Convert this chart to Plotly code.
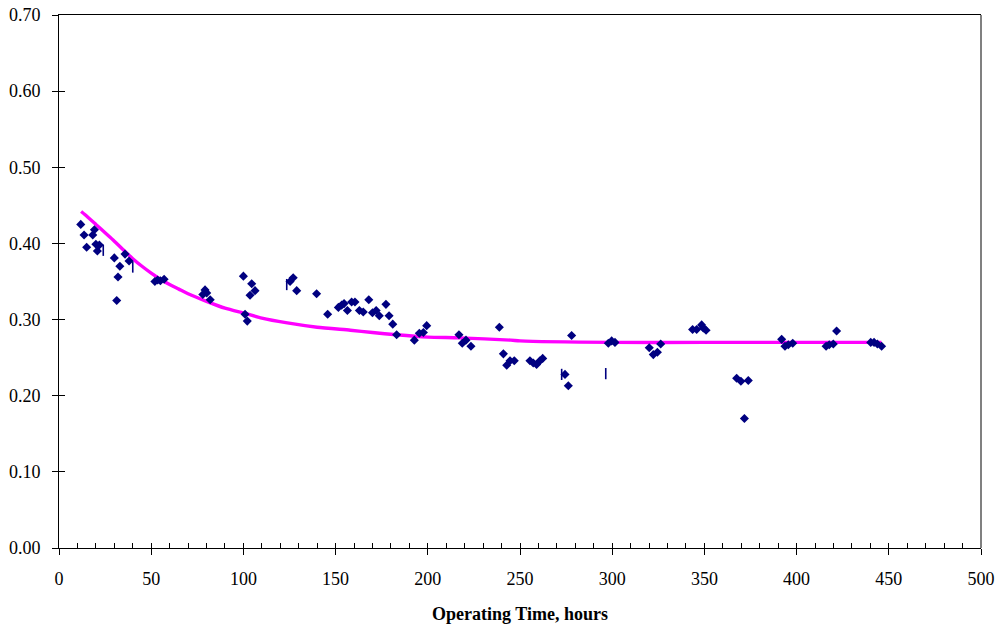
import plotly.graph_objects as go

# Measured points (operating hours, value)
hours = [11.8, 13.6, 15.0, 18.3, 19.2, 20.0, 21.9, 20.8, 30.0, 31.3, 32.0, 33.0, 35.8, 38.0,
         52.0, 53.5, 55.0, 57.0, 78.0, 79.2, 80.1, 82.0, 100.0, 100.9, 102.1, 103.6, 104.5, 106.3,
         125.3, 127.0, 128.9, 139.7, 145.7, 151.5, 153.3, 154.6, 156.4, 158.7, 160.5, 162.9,
         165.0, 168.0, 170.0, 172.0, 173.7, 177.3, 179.0, 181.0, 183.1, 192.7, 195.4, 197.6,
         199.4, 216.9, 218.7, 220.7, 223.4, 238.8, 241.0, 242.8, 244.6, 246.9, 255.4, 257.2,
         259.0, 260.8, 262.3, 274.4, 276.2, 278.0, 297.9, 299.7, 301.5, 320.1, 322.3, 324.5,
         326.3, 343.6, 345.8, 348.5, 349.4, 350.9, 367.5, 369.8, 373.8, 371.7, 391.9, 393.7,
         395.5, 397.9, 416.0, 417.7, 419.9, 421.7, 440.2, 442.0, 443.8, 446.1]
values = [0.425, 0.411, 0.395, 0.411, 0.418, 0.399, 0.398, 0.390, 0.381, 0.325, 0.356, 0.370, 0.386, 0.377,
          0.350, 0.352, 0.351, 0.353, 0.333, 0.339, 0.335, 0.326, 0.357, 0.307, 0.298, 0.332, 0.347, 0.338,
          0.350, 0.355, 0.338, 0.334, 0.307, 0.316, 0.319, 0.321, 0.312, 0.323, 0.323, 0.312,
          0.310, 0.326, 0.309, 0.312, 0.305, 0.320, 0.305, 0.294, 0.280, 0.273, 0.282, 0.283,
          0.292, 0.280, 0.269, 0.273, 0.265, 0.290, 0.255, 0.240, 0.246, 0.246, 0.246, 0.243,
          0.241, 0.246, 0.249, 0.228, 0.213, 0.279, 0.269, 0.272, 0.270, 0.263, 0.254, 0.257,
          0.268, 0.287, 0.287, 0.293, 0.289, 0.286, 0.223, 0.219, 0.220, 0.170, 0.274, 0.265,
          0.267, 0.269, 0.265, 0.267, 0.268, 0.285, 0.270, 0.270, 0.268, 0.265]

# Secondary readings shown as short vertical dashes
dash_hours = [24.0, 40.0, 123.5, 272.6, 296.5]
dash_values = [0.391, 0.369, 0.346, 0.228, 0.229]

# Trend curve
trend_hours = [12, 14, 20, 25, 30, 36, 40, 45, 50, 55, 60, 65, 70, 80, 90, 101, 110, 123,
               140, 158, 170, 183, 200, 217, 245, 250, 300, 350, 400, 446]
trend_values = [0.442, 0.438, 0.425, 0.414, 0.403, 0.389, 0.380, 0.370, 0.361, 0.353, 0.346,
                0.340, 0.334, 0.324, 0.315, 0.308, 0.302, 0.296, 0.290, 0.286, 0.283, 0.280,
                0.277, 0.276, 0.273, 0.272, 0.270, 0.270, 0.270, 0.270]

x_ticks = list(range(0, 501, 50))
y_ticks = [0.0, 0.1, 0.2, 0.3, 0.4, 0.5, 0.6, 0.7]

FONT = "Liberation Serif, Times New Roman, serif"

fig = go.Figure()
fig.add_trace(go.Scatter(x=trend_hours, y=trend_values, mode="lines",
                         line=dict(color="#FF00FF", width=3.4, shape="spline", smoothing=0.6),
                         showlegend=False))
fig.add_trace(go.Scatter(x=hours, y=values, mode="markers",
                         marker=dict(symbol="diamond", size=7, color="#000080"),
                         showlegend=False))
fig.add_trace(go.Scatter(x=dash_hours, y=dash_values, mode="markers",
                         marker=dict(symbol="line-ns", size=8,
                                     line=dict(color="#000080", width=1.6)),
                         showlegend=False))
# invisible trace to activate overlay axes for crossing ticks
fig.add_trace(go.Scatter(x=[0], y=[0], xaxis="x2", yaxis="y2", mode="markers",
                         marker=dict(opacity=0), showlegend=False, hoverinfo="skip"))

fig.update_layout(
    width=1001, height=630,
    margin=dict(l=59, r=20, t=15, b=82),
    paper_bgcolor="white", plot_bgcolor="white",
    font=dict(family=FONT, size=18, color="black"),
    xaxis=dict(range=[0, 500], tickvals=x_ticks, ticks="outside", ticklen=6,
               tickcolor="black", tickwidth=1, showline=True, linecolor="black",
               linewidth=1, mirror=True, showgrid=False, zeroline=False,
               ticklabelstandoff=8, automargin=False,
               title=dict(text="<b>Operating Time, hours</b>",
                          font=dict(family=FONT, size=18), standoff=19)),
    yaxis=dict(range=[0, 0.7], tickvals=y_ticks, tickformat=".2f", ticks="outside",
               ticklen=6, tickcolor="black", tickwidth=1, showline=True,
               linecolor="black", linewidth=1, showgrid=False, zeroline=False,
               ticklabelstandoff=8, automargin=False),
    xaxis2=dict(range=[0, 500], overlaying="x", dtick=10, tick0=0, ticks="inside",
                ticklen=5, tickcolor="black", showticklabels=False, showgrid=False,
                zeroline=False, showline=False, automargin=False),
    yaxis2=dict(range=[0, 0.7], overlaying="y", dtick=0.1, tick0=0, ticks="inside",
                ticklen=6, tickcolor="black", showticklabels=False, showgrid=False,
                zeroline=False, showline=False, automargin=False),
    shapes=[dict(type="line", xref="paper", yref="paper", x0=1, x1=1, y0=0, y1=1,
                 line=dict(color="#808080", width=2))],
)

fig.write_html("out.html")
